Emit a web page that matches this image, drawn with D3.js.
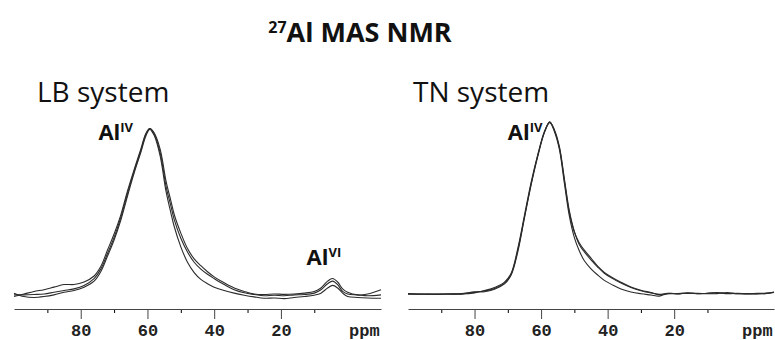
<!DOCTYPE html>
<html>
<head>
<meta charset="utf-8">
<script src="https://cdn.jsdelivr.net/npm/d3@7"></script>
<style>
  body { margin: 0; background: #fff; }
  svg { display: block; }
  .tick text { font-family: "Liberation Mono", monospace; font-weight: bold; }
</style>
</head>
<body>
<div id="content"></div>
<script>
// LB system: chemical shift (ppm) and three normalised spectra
var ppmLB = [100, 97, 94, 91, 88, 85, 82, 79, 76, 74, 72, 70, 68, 66, 64, 62, 60.5, 59.3, 58, 56.2, 54.4, 53, 52, 50, 48, 46, 44, 42, 40, 37, 34, 31, 28, 25, 22, 19, 16, 13, 10, 8, 6, 4.5, 3, 1.5, 0, -3, -6, -10];
var lb1 = [2.0, 3.5, 5.0, 6.0, 7.5, 9.0, 9.0, 10.5, 14, 19.5, 29, 38.5, 49.5, 63.5, 76, 88, 97, 100, 97.5, 88, 69, 58, 50, 39, 30, 24, 20, 16.5, 13.5, 10, 7, 5, 3.5, 3.2, 3.5, 3.3, 3.5, 4.0, 5.0, 7.0, 11, 12.5, 10.5, 6.5, 4.5, 3.0, 3.5, 6.0];
var lb2 = [3.0, 3.0, 3.2, 3.5, 4.5, 5.5, 6.5, 8.5, 12.5, 18, 27, 36.5, 48, 62, 75, 87, 96.5, 100, 97, 86, 66, 55, 47, 36, 28, 22, 18, 15, 12.5, 9, 6, 4.2, 3.2, 2.5, 2.8, 2.5, 3.0, 3.2, 4.0, 6.0, 9.5, 11, 9, 5, 3.5, 3.0, 2.5, 3.0];
var lb3 = [4.0, 2.0, 1.5, 2.0, 3.0, 4.5, 5.5, 7.5, 11, 16.5, 25.5, 35, 46.5, 60.5, 74, 86, 95.5, 99.5, 96, 84, 63, 51, 43, 31, 22, 16, 12, 9.5, 7.5, 5.5, 4.0, 2.8, 1.8, 1.0, 1.2, 0.8, 1.5, 2.0, 2.8, 4.0, 7.0, 8.5, 7.0, 4.0, 2.0, 1.5, 1.2, 1.0];

// TN system
var ppmTN = [100, 96, 92, 88, 84, 80, 77, 74, 71, 69, 67, 65, 63, 61, 59, 57.4, 56, 54.5, 53, 51.5, 50, 48.5, 47, 45, 43, 41, 38.5, 36, 33, 30, 27, 24.5, 22, 19, 16, 13, 10, 7, 4, 1, -2, -5, -8, -10];
var tn1 = [3.5, 3.2, 3.4, 3.2, 3.6, 4.3, 5.0, 6.5, 9.5, 14.5, 28, 46.5, 65, 81, 94, 100, 95, 85.5, 67, 49, 38, 32, 28, 23.5, 19, 15.5, 12.5, 10, 7.3, 5.5, 4.2, 3.0, 3.8, 3.4, 4.0, 3.5, 3.8, 4.2, 3.5, 3.8, 3.4, 3.7, 3.9, 4.5];
var tn2 = [3.3, 3.4, 3.1, 3.4, 3.3, 4.6, 4.6, 6.0, 9.0, 14, 27, 46, 64.5, 80.5, 94, 99.5, 94.5, 84.5, 65.5, 47, 35, 27.5, 22, 17.5, 14, 11, 8.4, 6.2, 4.5, 3.5, 2.8, 2.2, 3.6, 3.6, 3.7, 3.8, 3.5, 3.6, 4.2, 3.5, 3.6, 3.4, 3.8, 4.2];
var tn3 = [3.6, 3.3, 3.3, 3.5, 3.4, 4.0, 5.3, 7.0, 10, 15, 29, 47.5, 66, 81.5, 94.5, 99.8, 95.5, 86, 68, 50, 38.5, 31, 27, 22.5, 18.5, 15, 12, 9.5, 7, 5.2, 4.0, 3.2, 3.5, 3.6, 3.8, 3.6, 3.7, 3.9, 3.7, 3.6, 3.6, 3.5, 3.7, 4.3];

var majorTicks = [80, 60, 40, 20];
var minorTicks = [90, 70, 50, 30, 10];
var unitLabel = "ppm";
var ppmDomain = [100, -10];

var width = 775, height = 340;
var axisY = 309;

var svg = d3.select("#content").append("svg")
    .attr("width", width)
    .attr("height", height);

// title
var title = svg.append("text")
    .attr("x", 360)
    .attr("y", 42)
    .attr("text-anchor", "middle")
    .style("font-family", "'Open Sans', sans-serif")
    .style("font-weight", "bold")
    .style("fill", "#111");
title.append("tspan").text("27").style("font-size", "16px").attr("dy", -9);
title.append("tspan").text("Al MAS NMR").style("font-size", "27px").attr("dy", 9);

function panel(opts) {
    var x = d3.scaleLinear().domain(ppmDomain).range([opts.x0, opts.x1]);
    var y = d3.scaleLinear().domain([0, 100]).range([300, opts.top]);

    var g = svg.append("g");

    // subtitle
    g.append("text")
        .attr("x", opts.x0 + opts.subDx)
        .attr("y", 102)
        .text(opts.name)
        .style("font-family", "'Open Sans', sans-serif")
        .style("font-size", "28px")
        .style("fill", "#111");

    var line = d3.line()
        .x(function(d) { return x(d.ppm); })
        .y(function(d) { return y(d.v); })
        .curve(d3.curveCatmullRom.alpha(0.5));

    opts.series.forEach(function(s) {
        var pts = opts.ppm.map(function(p, i) { return {ppm: p, v: s[i]}; });
        g.append("path")
            .datum(pts)
            .attr("d", line)
            .attr("fill", "none")
            .attr("stroke", "#2b2b2b")
            .attr("stroke-width", 1.1);
    });

    // minor ticks
    g.append("g")
        .attr("transform", "translate(0," + axisY + ")")
        .call(d3.axisBottom(x).tickValues(minorTicks).tickSize(4).tickSizeOuter(0).tickFormat(""))
        .call(function(a) { a.select(".domain").remove(); });

    // main axis
    var ax = g.append("g")
        .attr("transform", "translate(0," + axisY + ")")
        .call(d3.axisBottom(x).tickValues(majorTicks).tickSize(10).tickSizeOuter(0).tickPadding(5));
    ax.selectAll("text").style("font-size", "17px").style("fill", "#222");
    ax.selectAll("line, path").attr("stroke", "#444");

    ax.append("text")
        .attr("x", x(-5))
        .attr("y", 15)
        .attr("dy", "0.71em")
        .attr("text-anchor", "middle")
        .text(unitLabel)
        .style("font-family", "'Liberation Mono', monospace")
        .style("font-weight", "bold")
        .style("font-size", "17px")
        .style("fill", "#222");

    // peak labels
    opts.labels.forEach(function(l) {
        var t = g.append("text")
            .attr("x", x(l.ppm))
            .attr("y", l.y)
            .style("font-family", "'Open Sans', sans-serif")
            .style("font-weight", "bold")
            .style("fill", "#111");
        t.append("tspan").text("Al").style("font-size", "22px");
        t.append("tspan").text(l.sup).style("font-size", "13px").attr("dy", -8);
    });
}

panel({
    name: "LB system", x0: 14, x1: 381, top: 128.5, subDx: 23,
    ppm: ppmLB, series: [lb1, lb2, lb3],
    labels: [{ppm: 74.7, y: 140, sup: "IV"}, {ppm: 12.3, y: 265, sup: "VI"}]
});

panel({
    name: "TN system", x0: 408, x1: 774, top: 121.7, subDx: 5,
    ppm: ppmTN, series: [tn1, tn2, tn3],
    labels: [{ppm: 70, y: 140, sup: "IV"}]
});
</script>
</body>
</html>
